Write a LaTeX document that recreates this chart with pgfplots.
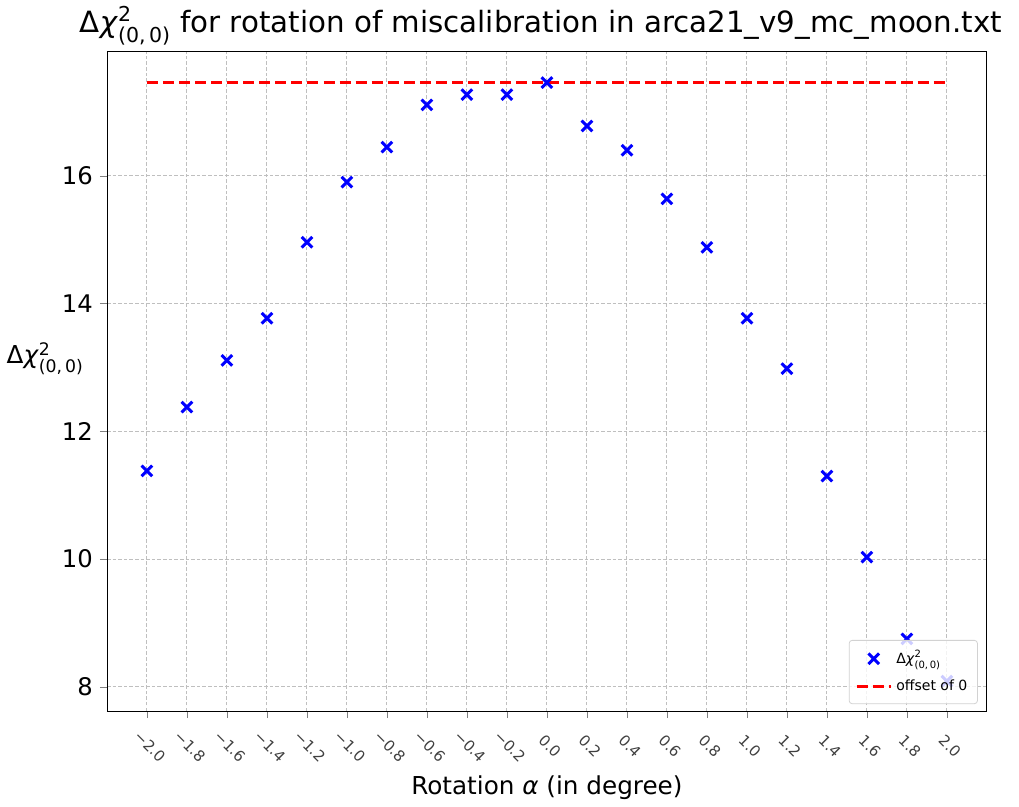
\documentclass[border=0pt]{standalone}
\usepackage{amsmath}
\usepackage{pgfplots}
\pgfplotsset{compat=1.18}
\usepackage{fontspec}
\setmainfont{DejaVu Sans}
\newcommand{\dchi}{Δ\textit{χ}$^{\text{2}}_{\text{(0,\,0)}}$}
\begin{document}
\begin{tikzpicture}
\begin{axis}[
    name=ax,
    scale only axis,
    width=438.5pt, height=328.5pt,
    xmin=-2.2, xmax=2.2, ymin=7.62, ymax=17.94,
    xtick={-2.0,-1.8,...,2.01},
    xticklabels={−2.0,−1.8,−1.6,−1.4,−1.2,−1.0,−0.8,−0.6,−0.4,−0.2,0.0,0.2,0.4,0.6,0.8,1.0,1.2,1.4,1.6,1.8,2.0},
    ytick={8,10,12,14,16},
    /pgf/number format/assume math mode=true,
    xticklabel style={anchor=center, xshift=1.5pt, yshift=-14pt, rotate=-45, font=\fontsize{7.5}{8}\selectfont, color=black!75},
    yticklabel style={font=\fontsize{12.1}{13}\selectfont},
    tick align=outside, tick pos=left,
    major tick length=3.5pt,
    grid=major,
    grid style={gray!50, line width=0.45pt, dash pattern=on 1.8pt off 1pt},
    title={\dchi{} for rotation of miscalibration in arca21\_v9\_mc\_moon.txt},
    title style={font=\fontsize{14.6}{16}\selectfont, yshift=-6pt, xshift=-3pt},
    xlabel={Rotation \textit{α} (in degree)},
    xlabel style={font=\fontsize{12.3}{14}\selectfont, yshift=2pt},
    ylabel={\dchi},
    ylabel style={rotate=-90, font=\fontsize{12.3}{14}\selectfont, at={(axis description cs:0,0.5)}, anchor=south east, xshift=-8pt},
    legend style={font=\fontsize{7}{8.5}\selectfont, draw=gray!35, rounded corners=1.5pt, fill=white, fill opacity=0.8, text opacity=1, draw opacity=1, inner sep=3pt, at={(1,0)}, anchor=south east, xshift=-4.5pt, yshift=3.5pt, row sep=2.5pt},
    legend cell align=left,
]
\addplot[only marks, mark=x, blue, mark size=3.75pt, line width=1.5pt] coordinates {
(-2.0,11.38) (-1.8,12.38) (-1.6,13.11) (-1.4,13.77) (-1.2,14.96)
(-1.0,15.90) (-0.8,16.45) (-0.6,17.11) (-0.4,17.27) (-0.2,17.27)
(0.0,17.46) (0.2,16.78) (0.4,16.40) (0.6,15.64) (0.8,14.88)
(1.0,13.77) (1.2,12.98) (1.4,11.30) (1.6,10.03) (1.8,8.75) (2.0,8.09)
};
\addlegendentry{\dchi}
\addplot[red, line width=1.4pt, dash pattern=on 5.5pt off 2.5pt] coordinates {(-2.0,17.46) (2.0,17.46)};
\addlegendentry{offset of 0}
\end{axis}
\path ([xshift=16pt]ax.east);
\end{tikzpicture}
\end{document}
